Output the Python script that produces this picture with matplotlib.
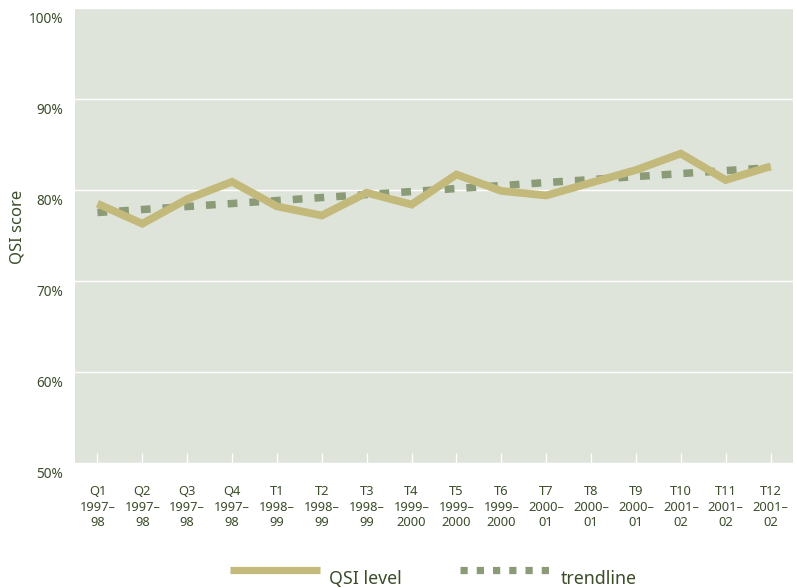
import numpy as np
import matplotlib
matplotlib.use("Agg")
import matplotlib.pyplot as plt
from matplotlib.lines import Line2D
from matplotlib.transforms import ScaledTranslation

# Quarterly / termly QSI scores (%)
periods = ["Q1\n1997–\n98", "Q2\n1997–\n98", "Q3\n1997–\n98", "Q4\n1997–\n98",
           "T1\n1998–\n99", "T2\n1998–\n99", "T3\n1998–\n99",
           "T4\n1999–\n2000", "T5\n1999–\n2000", "T6\n1999–\n2000",
           "T7\n2000–\n01", "T8\n2000–\n01", "T9\n2000–\n01",
           "T10\n2001–\n02", "T11\n2001–\n02", "T12\n2001–\n02"]
qsi_level = [78.5, 76.3, 79.0, 80.9, 78.2, 77.2, 79.7, 78.4,
             81.7, 79.9, 79.4, 80.8, 82.2, 84.0, 81.1, 82.6]
y_ticks = [50, 60, 70, 80, 90, 100]

QSI_COL = "#c3b97b"
TREND_COL = "#8b9a77"
BG_COL = "#dfe4da"
TEXT_COL = "#3b4d2a"
FONT = "Noto Sans"

plt.rcParams["font.family"] = [FONT, "DejaVu Sans"]

fig = plt.figure(figsize=(7.97, 5.88), dpi=100)
W, H = 797, 588
ax = fig.add_axes([75 / W, 1 - 463 / H, (793 - 75) / W, (463 - 8) / H])
ax.set_facecolor(BG_COL)
for s in ax.spines.values():
    s.set_visible(False)

x = np.arange(len(qsi_level))
# least-squares linear trend through the QSI series
slope, intercept = np.polyfit(x, qsi_level, 1)
trend = slope * x + intercept

ax.plot(x, trend, color=TREND_COL, lw=5.4, dashes=(1.3, 1.6),
        dash_capstyle="butt", zorder=3)
ax.plot(x, qsi_level, color=QSI_COL, lw=5.6, solid_joinstyle="miter",
        solid_capstyle="butt", zorder=4)

ax.set_xlim(-0.5, len(qsi_level) - 0.5)
ax.set_ylim(50, 100)
ax.set_yticks(y_ticks)
ax.set_yticklabels([f"{v}%" for v in y_ticks])
ax.grid(axis="y", color="white", lw=1.0, zorder=1)
ax.set_axisbelow(True)

ax.set_xticks(x)
ax.set_xticklabels(periods, linespacing=1.25)
ax.tick_params(axis="x", direction="in", length=7.5, width=0.9, color="white",
               pad=16, labelsize=9.3, labelcolor=TEXT_COL)
ax.tick_params(axis="y", length=0, pad=8.6, labelsize=9.8, labelcolor=TEXT_COL)
for lab in ax.get_yticklabels():
    lab.set_transform(lab.get_transform() +
                      ScaledTranslation(0, -6.5 / 72, fig.dpi_scale_trans))

fig.text(18 / W, 1 - 227 / H, "QSI score", rotation=90, ha="center",
         va="center", fontsize=12, color=TEXT_COL)

# legend
ly = 1 - 570 / H
fig.add_artist(Line2D([230 / W, 320 / W], [ly, ly], transform=fig.transFigure,
                      color=QSI_COL, lw=5.2, solid_capstyle="butt"))
fig.text(329 / W, 1 - 579 / H, "QSI level", fontsize=12.8, color=TEXT_COL,
         va="center", ha="left")
fig.add_artist(Line2D([460 / W, 551 / W], [ly, ly], transform=fig.transFigure,
                      color=TREND_COL, lw=5.2, dashes=(1.0, 1.25),
                      dash_capstyle="butt"))
fig.text(561 / W, 1 - 579 / H, "trendline", fontsize=12.8, color=TEXT_COL,
         va="center", ha="left")

fig.savefig("out.png", dpi=100, facecolor="white")
